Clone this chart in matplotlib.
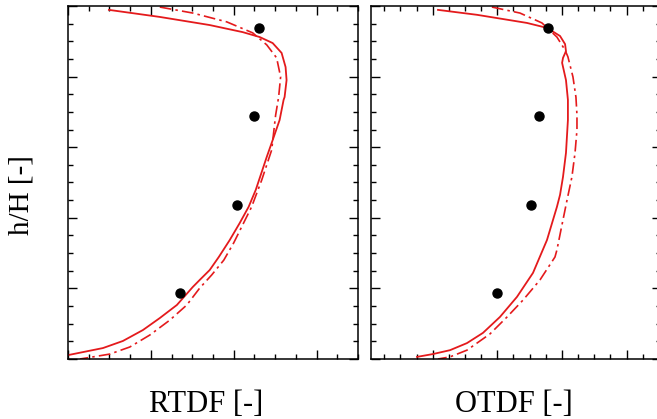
import matplotlib
matplotlib.use("Agg")
import matplotlib.pyplot as plt
from matplotlib.ticker import MultipleLocator

plt.rcParams['font.family'] = ['Liberation Serif', 'DejaVu Serif']

# dati ________________________________________________________________
# pannello sinistro (RTDF)
rtdf_solid_x = [0.247, 0.554, 0.855, 1.054, 1.157, 1.235, 1.289, 1.313, 1.319, 1.307,
                1.301, 1.277, 1.235, 1.199, 1.133, 1.090, 1.036, 0.976, 0.910, 0.855,
                0.795, 0.753, 0.657, 0.554, 0.452, 0.331, 0.211, 0.0]
rtdf_solid_h = [0.989, 0.969, 0.946, 0.926, 0.912, 0.895, 0.867, 0.827, 0.790, 0.742,
                0.734, 0.677, 0.620, 0.572, 0.479, 0.431, 0.385, 0.337, 0.289, 0.252,
                0.224, 0.204, 0.153, 0.116, 0.082, 0.051, 0.031, 0.011]
rtdf_dash_x = [0.554, 0.753, 0.958, 1.114, 1.199, 1.259, 1.283, 1.271, 1.253, 1.229,
               1.169, 1.108, 1.054, 1.000, 0.940, 0.867, 0.795, 0.717, 0.614, 0.494,
               0.373, 0.253, 0.151, 0.072]
rtdf_dash_h = [0.997, 0.980, 0.955, 0.924, 0.890, 0.853, 0.799, 0.742, 0.691, 0.592,
               0.507, 0.431, 0.380, 0.329, 0.280, 0.238, 0.201, 0.153, 0.110, 0.068,
               0.034, 0.014, 0.006, 0.0]
rtdf_exp_x = [1.151, 1.120, 1.018, 0.675]
rtdf_exp_h = [0.938, 0.688, 0.436, 0.187]

# pannello destro (OTDF)
otdf_solid_x = [0.541, 0.843, 1.229, 1.384, 1.485, 1.524, 1.531, 1.508, 1.501, 1.531,
                1.546, 1.546, 1.531, 1.508, 1.485, 1.461, 1.384, 1.276, 1.152, 1.020,
                0.889, 0.765, 0.634, 0.502, 0.379]
otdf_solid_h = [0.989, 0.975, 0.952, 0.938, 0.915, 0.892, 0.872, 0.853, 0.839, 0.790,
                0.734, 0.677, 0.584, 0.516, 0.465, 0.431, 0.337, 0.244, 0.176, 0.119,
                0.074, 0.045, 0.025, 0.014, 0.006]
otdf_dash_x = [0.958, 1.175, 1.345, 1.461, 1.524, 1.546, 1.585, 1.608, 1.616, 1.616,
               1.601, 1.577, 1.539, 1.500, 1.461, 1.446, 1.330, 1.199, 1.075, 0.943,
               0.765, 0.634, 0.541]
otdf_dash_h = [0.997, 0.980, 0.952, 0.912, 0.875, 0.856, 0.799, 0.742, 0.691, 0.649,
               0.584, 0.516, 0.450, 0.380, 0.309, 0.289, 0.224, 0.167, 0.119, 0.071,
               0.025, 0.006, 0.0]
otdf_exp_x = [1.392, 1.322, 1.260, 0.998]
otdf_exp_h = [0.938, 0.688, 0.436, 0.187]

red = '#e41a1c'
dashdot = (0, (7, 2.5, 1.5, 2.5))

fig = plt.figure(figsize=(6.57, 4.19), dpi=100)
ax1 = fig.add_axes([0.1035, 0.1432, 0.4414, 0.8425])
ax2 = fig.add_axes([0.5647, 0.1432, 0.4414, 0.8425])

pannelli = [
    (ax1, rtdf_solid_x, rtdf_solid_h, rtdf_dash_x, rtdf_dash_h, rtdf_exp_x, rtdf_exp_h, (0, 1.75)),
    (ax2, otdf_solid_x, otdf_solid_h, otdf_dash_x, otdf_dash_h, otdf_exp_x, otdf_exp_h, (0.023, 2.266)),
]

for ax, sx, sh, dx, dh, ex, eh, xlim in pannelli:
    ax.plot(sx, sh, color=red, lw=1.3)
    ax.plot(dx, dh, color=red, lw=1.2, linestyle=dashdot)
    ax.plot(ex, eh, 'o', color='black', markersize=6.5)

    ax.set_xlim(*xlim)
    ax.set_ylim(0, 1)
    ax.xaxis.set_major_locator(MultipleLocator(0.5))
    ax.xaxis.set_minor_locator(MultipleLocator(0.125))
    ax.yaxis.set_major_locator(MultipleLocator(0.2))
    ax.yaxis.set_minor_locator(MultipleLocator(0.05))
    ax.tick_params(which='both', direction='in', top=True, right=True,
                   labelbottom=False, labelleft=False, width=1.0)
    ax.tick_params(which='major', length=6.5)
    ax.tick_params(which='minor', length=3.5)
    for sp in ax.spines.values():
        sp.set_linewidth(1.1)

# etichette assi
fig.text(206 / 657, 0.016, 'RTDF [-]', ha='center', va='baseline', fontsize=22)
fig.text(514 / 657, 0.016, 'OTDF [-]', ha='center', va='baseline', fontsize=22)
fig.text(21.5 / 657, 1 - 195 / 419, 'h/H [-]', rotation=90, ha='center', va='center', fontsize=21)

fig.savefig('out.png', dpi=100)
